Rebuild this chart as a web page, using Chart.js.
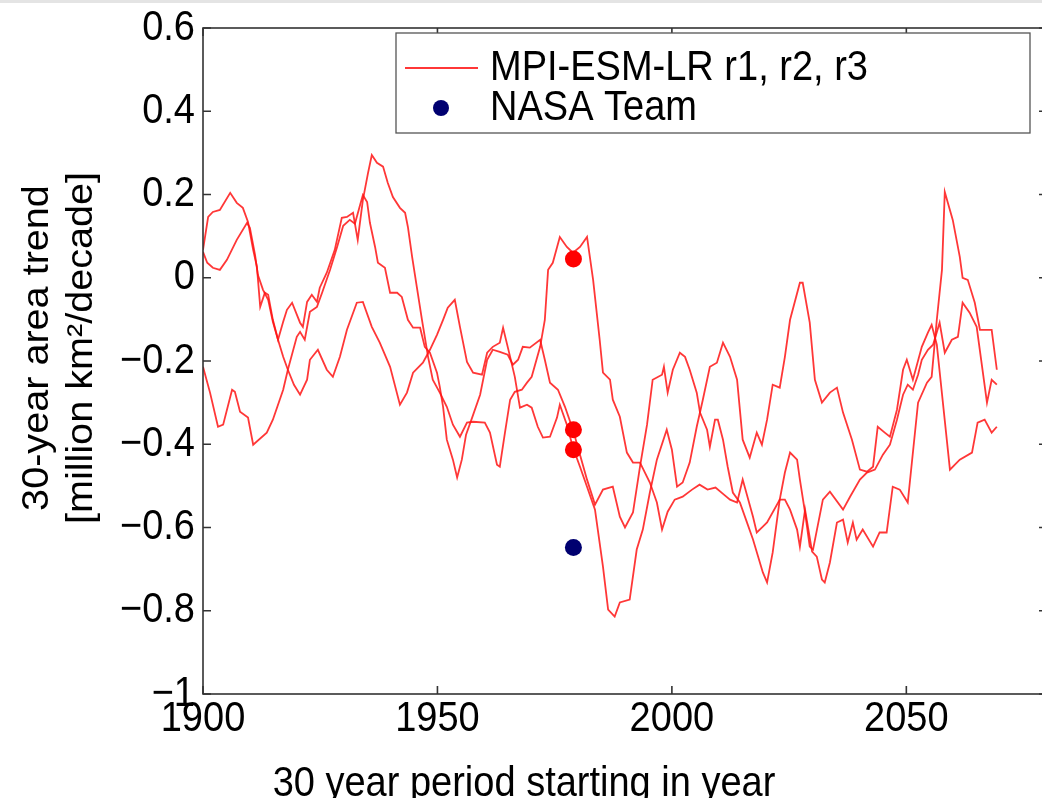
<!DOCTYPE html>
<html>
<head>
<meta charset="utf-8">
<script src="https://cdn.jsdelivr.net/npm/chart.js@4.4.1/dist/chart.umd.min.js"></script>
<style>
  html, body { margin: 0; padding: 0; overflow: hidden; background: #fff; width: 1042px; height: 798px; }
  #wrap { position: absolute; left: 0; top: 0; width: 1042px; height: 798px; overflow: hidden; }
  #topbar { position: absolute; left: 0; top: 0; width: 1042px; height: 3px; background: #e4e4e4; z-index: 2; }
  #chart { position: absolute; left: 0; top: 0; }
</style>
</head>
<body>
<div id="wrap">
  <div id="topbar"></div>
  <canvas id="chart" width="1050" height="798"></canvas>
</div>
<script>
// tick values / labels
const xTicks = [1900, 1950, 2000, 2050];
const yTicks = [-1, -0.8, -0.6, -0.4, -0.2, 0, 0.2, 0.4, 0.6];
const yTickLabels = ["\u22121", "\u22120.8", "\u22120.6", "\u22120.4", "\u22120.2", "0", "0.2", "0.4", "0.6"];

// MPI-ESM-LR run r1 (30-year trend, million km2/decade)
const r1Years = [1900.0,1901.1,1902.1,1903.6,1905.8,1907.2,1908.5,1909.6,1910.7,1911.5,1912.2,1913.2,1913.9,1914.9,1916.0,1917.1,1918.1,1919.4,1920.7,1922.2,1922.8,1924.5,1926.4,1927.7,1929.2,1930.7,1932.8,1934.1,1936.0,1937.7,1939.9,1942.0,1943.5,1944.8,1946.9,1948.4,1949.9,1951.2,1952.2,1953.7,1954.8,1956.3,1957.6,1959.5,1960.6,1961.8,1963.3,1964.0,1965.5,1966.5,1967.6,1969.1,1970.1,1971.4,1972.5,1974.0,1975.5,1976.1,1977.6,1978.9,1980.4,1981.9,1983.6,1985.3,1986.4,1987.8,1988.9,1991.0,1992.5,1993.8,1995.3,1996.8,1998.9,2000.0,2001.1,2002.3,2003.8,2005.3,2006.6,2008.1,2009.6,2010.9,2012.4,2013.9,2015.1,2016.6,2018.1,2019.2,2020.3,2021.5,2023.0,2024.1,2025.2,2027.3,2027.9,2029.4,2030.5,2032.0,2033.7,2035.2,2036.5,2038.4,2040.1,2041.6,2042.9,2043.9,2045.4,2046.5,2048.0,2049.3,2050.1,2051.4,2053.3,2054.6,2055.4,2056.5,2059.3,2061.4,2064.0,2065.2,2066.7,2068.2,2069.3];
const r1Trend = [0.067,0.146,0.158,0.163,0.204,0.180,0.168,0.134,0.067,0.026,-0.070,-0.036,-0.041,-0.101,-0.149,-0.190,-0.221,-0.257,-0.281,-0.245,-0.197,-0.173,-0.221,-0.238,-0.190,-0.125,-0.060,-0.058,-0.118,-0.156,-0.214,-0.305,-0.276,-0.228,-0.204,-0.173,-0.137,-0.101,-0.072,-0.053,-0.118,-0.202,-0.228,-0.233,-0.180,-0.166,-0.156,-0.120,-0.190,-0.238,-0.312,-0.305,-0.312,-0.358,-0.384,-0.382,-0.336,-0.305,-0.353,-0.408,-0.454,-0.502,-0.557,-0.694,-0.797,-0.814,-0.780,-0.773,-0.653,-0.605,-0.516,-0.437,-0.365,-0.413,-0.502,-0.492,-0.444,-0.358,-0.293,-0.214,-0.204,-0.156,-0.190,-0.245,-0.389,-0.432,-0.372,-0.401,-0.341,-0.257,-0.264,-0.190,-0.101,-0.012,-0.012,-0.108,-0.245,-0.300,-0.276,-0.264,-0.324,-0.389,-0.461,-0.466,-0.454,-0.358,-0.372,-0.382,-0.317,-0.221,-0.197,-0.245,-0.166,-0.132,-0.113,-0.161,-0.461,-0.437,-0.420,-0.348,-0.341,-0.372,-0.358];

// run r2
const r2Years = [1900.0,1900.9,1902.1,1903.6,1905.1,1907.2,1909.4,1910.0,1911.1,1911.7,1912.8,1913.9,1914.9,1916.0,1917.1,1917.9,1919.0,1920.7,1921.3,1922.2,1923.2,1924.3,1924.9,1926.4,1928.1,1929.6,1930.7,1932.0,1933.0,1934.1,1935.2,1936.0,1937.1,1938.4,1939.4,1940.5,1942.0,1943.1,1943.7,1944.6,1945.6,1946.7,1948.0,1949.0,1950.5,1952.0,1953.3,1954.8,1956.3,1957.6,1960.1,1961.2,1962.7,1963.3,1964.4,1965.5,1966.5,1968.0,1969.1,1970.1,1971.9,1972.9,1973.6,1974.6,1976.1,1977.6,1978.9,1980.4,1981.9,1983.2,1984.6,1985.3,1986.8,1987.4,1988.9,1990.4,1991.7,1993.2,1995.3,1996.8,1997.9,1999.1,2000.6,2002.3,2004.3,2005.9,2007.6,2009.3,2011.1,2012.4,2013.9,2015.1,2017.3,2018.1,2019.4,2020.3,2023.0,2024.1,2025.2,2026.7,2027.3,2028.4,2029.4,2030.1,2032.2,2033.7,2036.5,2038.0,2040.1,2041.6,2043.3,2045.0,2046.5,2048.0,2049.3,2050.3,2051.4,2052.5,2053.3,2054.6,2055.7,2057.1,2058.2,2059.7,2061.0,2062.0,2063.5,2065.0,2067.2,2068.2,2069.3];
const r2Trend = [0.062,0.036,0.024,0.019,0.043,0.091,0.132,0.120,0.055,0.007,-0.029,-0.053,-0.106,-0.149,-0.106,-0.077,-0.060,-0.108,-0.118,-0.058,-0.041,-0.058,-0.024,0.012,0.067,0.144,0.146,0.156,0.091,0.187,0.252,0.295,0.276,0.267,0.228,0.194,0.168,0.156,0.122,0.050,-0.022,-0.101,-0.190,-0.245,-0.276,-0.310,-0.353,-0.382,-0.348,-0.346,-0.348,-0.372,-0.449,-0.454,-0.372,-0.293,-0.274,-0.269,-0.252,-0.238,-0.166,-0.101,0.019,0.036,0.098,0.074,0.060,0.074,0.098,-0.005,-0.149,-0.228,-0.245,-0.293,-0.334,-0.420,-0.444,-0.444,-0.492,-0.540,-0.605,-0.562,-0.533,-0.526,-0.509,-0.497,-0.509,-0.504,-0.521,-0.533,-0.540,-0.485,-0.574,-0.612,-0.598,-0.588,-0.533,-0.468,-0.420,-0.437,-0.485,-0.564,-0.646,-0.653,-0.533,-0.514,-0.557,-0.526,-0.485,-0.468,-0.461,-0.425,-0.401,-0.341,-0.281,-0.257,-0.269,-0.233,-0.197,-0.173,-0.161,-0.108,-0.180,-0.149,-0.142,-0.060,-0.084,-0.118,-0.300,-0.245,-0.257];

// run r3
const r3Years = [1900.0,1901.5,1903.2,1904.3,1906.2,1906.8,1907.9,1909.6,1910.7,1913.6,1914.9,1917.1,1918.1,1920.0,1920.7,1921.7,1922.8,1924.3,1925.4,1927.1,1928.6,1929.9,1931.3,1932.4,1933.5,1934.1,1935.0,1935.6,1936.7,1937.3,1938.8,1939.9,1941.4,1942.4,1943.7,1944.8,1946.3,1947.3,1948.4,1949.9,1950.5,1951.2,1952.0,1953.3,1954.2,1955.2,1956.1,1957.4,1959.1,1960.6,1961.8,1963.3,1965.0,1966.1,1967.2,1968.2,1969.7,1971.9,1972.9,1974.0,1975.7,1977.2,1978.9,1980.4,1981.9,1983.6,1985.3,1987.4,1988.9,1990.0,1991.7,1993.2,1994.7,1995.9,1997.9,1998.3,1999.1,2000.2,2001.7,2002.8,2003.8,2005.3,2006.0,2007.5,2008.1,2009.2,2009.8,2010.9,2011.9,2013.0,2014.5,2015.8,2017.3,2019.4,2020.3,2021.5,2023.0,2024.1,2025.2,2026.7,2027.3,2028.4,2029.9,2030.9,2032.0,2032.6,2033.7,2035.2,2036.5,2037.5,2038.6,2039.4,2040.7,2042.9,2044.3,2045.8,2047.1,2048.6,2050.3,2052.5,2054.4,2055.4,2056.5,2057.6,2058.2,2059.9,2061.4,2062.0,2063.1,2064.6,2065.7,2068.2,2069.3];
const r3Trend = [-0.214,-0.276,-0.358,-0.353,-0.269,-0.274,-0.322,-0.336,-0.401,-0.372,-0.341,-0.269,-0.221,-0.142,-0.130,-0.149,-0.082,-0.070,-0.036,0.019,0.074,0.125,0.139,0.130,0.175,0.199,0.182,0.132,0.074,0.036,0.024,-0.036,-0.036,-0.046,-0.101,-0.120,-0.120,-0.166,-0.180,-0.228,-0.262,-0.310,-0.389,-0.437,-0.480,-0.437,-0.377,-0.336,-0.281,-0.197,-0.173,-0.178,-0.185,-0.209,-0.197,-0.166,-0.168,-0.149,-0.197,-0.252,-0.269,-0.310,-0.365,-0.425,-0.485,-0.545,-0.509,-0.502,-0.574,-0.600,-0.564,-0.454,-0.353,-0.245,-0.233,-0.214,-0.276,-0.221,-0.180,-0.190,-0.221,-0.276,-0.324,-0.365,-0.406,-0.341,-0.341,-0.389,-0.454,-0.516,-0.540,-0.581,-0.629,-0.708,-0.732,-0.660,-0.533,-0.533,-0.557,-0.605,-0.646,-0.557,-0.658,-0.670,-0.725,-0.732,-0.684,-0.588,-0.581,-0.636,-0.588,-0.629,-0.605,-0.646,-0.612,-0.612,-0.502,-0.509,-0.540,-0.300,-0.252,-0.238,-0.101,0.019,0.206,0.139,0.050,0.000,-0.005,-0.060,-0.125,-0.125,-0.221];

// 1979-2008 trends: model runs and NASA Team observation
const obsYear = 1979;
const modelObsTrend = [0.045, -0.365, -0.413];
const nasaTeamTrend = [-0.648];

const RED = "rgba(255, 20, 20, 0.85)";
const FONT = '"Liberation Sans", Arial, sans-serif';
const SY = 1.1; // vertical stretch of the original lettering

function toPoints(xs, ys) {
    return xs.map((x, i) => ({ x: x, y: ys[i] }));
}

function runDataset(xs, ys) {
    return {
        data: toPoints(xs, ys),
        showLine: true,
        borderColor: RED,
        borderWidth: 1.8,
        pointRadius: 0,
        tension: 0,
        order: 2
    };
}

function stretchedText(ctx, text, x, y, align, baseline) {
    ctx.save();
    ctx.translate(x, y);
    ctx.scale(1, SY);
    ctx.textAlign = align;
    ctx.textBaseline = baseline;
    ctx.fillText(text, 0, 0);
    ctx.restore();
}

const frame = {
    id: "frame",
    afterDatasetsDraw(chart) {
        const ctx = chart.ctx;
        const a = chart.chartArea;
        const xs = chart.scales.x, ys = chart.scales.y;
        const tl = 8;
        ctx.save();
        ctx.strokeStyle = "#333";
        ctx.lineWidth = 1.6;
        ctx.strokeRect(a.left, a.top, a.right - a.left, a.bottom - a.top);
        ctx.beginPath();
        xs.ticks.forEach(t => {
            const px = xs.getPixelForValue(t.value);
            ctx.moveTo(px, a.bottom); ctx.lineTo(px, a.bottom - tl);
            ctx.moveTo(px, a.top); ctx.lineTo(px, a.top + tl);
        });
        ys.ticks.forEach(t => {
            const py = ys.getPixelForValue(t.value);
            ctx.moveTo(a.left, py); ctx.lineTo(a.left + tl, py);
            ctx.moveTo(a.right, py); ctx.lineTo(a.right - tl, py);
        });
        ctx.stroke();

        // tick labels
        ctx.fillStyle = "#000";
        ctx.font = "38px " + FONT;
        xs.ticks.forEach(t => {
            stretchedText(ctx, String(t.value), xs.getPixelForValue(t.value), a.bottom + 5, "center", "top");
        });
        ys.ticks.forEach((t, i) => {
            stretchedText(ctx, yTickLabels[i], a.left - 8, ys.getPixelForValue(t.value), "right", "middle");
        });

        // axis titles
        stretchedText(ctx, "30 year period starting in year", 524, 796, "center", "alphabetic");
        ctx.font = "36px " + FONT;
        const yTitle = ["30-year area trend", "[million km\u00b2/decade]"];
        [38, 82].forEach((cx, i) => {
            ctx.save();
            ctx.translate(cx, 348);
            ctx.rotate(-Math.PI / 2);
            ctx.scale(SY, 1);
            ctx.textAlign = "center";
            ctx.textBaseline = "middle";
            ctx.fillText(yTitle[i], 0, 0);
            ctx.restore();
        });

        // legend box
        ctx.fillStyle = "#fff";
        ctx.fillRect(396, 33, 634, 100);
        ctx.strokeStyle = "#555";
        ctx.lineWidth = 1.3;
        ctx.strokeRect(396, 33, 634, 100);
        ctx.strokeStyle = RED;
        ctx.lineWidth = 1.8;
        ctx.beginPath();
        ctx.moveTo(405, 68); ctx.lineTo(478, 68);
        ctx.stroke();
        ctx.fillStyle = "#000070";
        ctx.beginPath();
        ctx.arc(441, 108, 8, 0, Math.PI * 2);
        ctx.fill();
        ctx.fillStyle = "#000";
        ctx.font = "38px " + FONT;
        stretchedText(ctx, "MPI-ESM-LR r1, r2, r3", 490, 68, "left", "middle");
        stretchedText(ctx, "NASA Team", 490, 108, "left", "middle");
        ctx.restore();
    }
};

new Chart(document.getElementById("chart"), {
    type: "scatter",
    data: {
        datasets: [
            runDataset(r1Years, r1Trend),
            runDataset(r2Years, r2Trend),
            runDataset(r3Years, r3Trend),
            {
                data: modelObsTrend.map(v => ({ x: obsYear, y: v })),
                pointRadius: 8.5,
                pointBackgroundColor: "#ff0000",
                pointBorderWidth: 0,
                order: 1
            },
            {
                data: nasaTeamTrend.map(v => ({ x: obsYear, y: v })),
                pointRadius: 8.5,
                pointBackgroundColor: "#000070",
                pointBorderWidth: 0,
                order: 1
            }
        ]
    },
    options: {
        responsive: false,
        animation: false,
        devicePixelRatio: 1,
        layout: { autoPadding: false, padding: { top: 28, right: 3, left: 0, bottom: 0 } },
        plugins: { legend: { display: false }, tooltip: { enabled: false } },
        scales: {
            x: {
                type: "linear",
                min: 1900,
                max: 2080,
                afterBuildTicks: s => { s.ticks = xTicks.map(v => ({ value: v })); },
                afterFit: s => { s.height = 104; },
                ticks: { display: false },
                grid: { display: false },
                border: { display: false }
            },
            y: {
                min: -1,
                max: 0.6,
                afterBuildTicks: s => { s.ticks = yTicks.map(v => ({ value: v })); },
                afterFit: s => { s.width = 203; },
                ticks: { display: false },
                grid: { display: false },
                border: { display: false }
            }
        }
    },
    plugins: [frame]
});
</script>
</body>
</html>
